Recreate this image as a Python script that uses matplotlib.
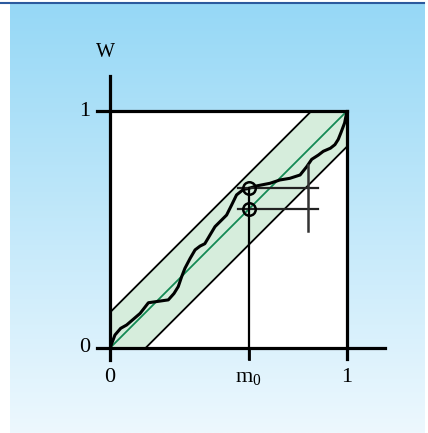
import numpy as np
import matplotlib
matplotlib.use("Agg")
import matplotlib.pyplot as plt
from matplotlib.colors import LinearSegmentedColormap

plt.rcParams['font.family'] = ['Liberation Serif', 'DejaVu Serif']
plt.rcParams['mathtext.fontset'] = 'custom'
plt.rcParams['mathtext.rm'] = 'Liberation Serif'
plt.rcParams['mathtext.it'] = 'Liberation Serif'

# data
curve_x = [0.0, 0.021, 0.045, 0.07, 0.091, 0.127, 0.162, 0.204, 0.246, 0.27, 0.288,
           0.302, 0.316, 0.338, 0.359, 0.38, 0.40, 0.415, 0.422, 0.443, 0.471, 0.492,
           0.513, 0.534, 0.563, 0.584, 0.619, 0.675, 0.717, 0.759, 0.802, 0.83, 0.851,
           0.879, 0.90, 0.93, 0.949, 0.963, 0.975, 0.99, 1.0]
curve_y = [0.0, 0.055, 0.083, 0.097, 0.115, 0.146, 0.191, 0.197, 0.203, 0.23, 0.259,
           0.30, 0.336, 0.378, 0.414, 0.43, 0.44, 0.465, 0.477, 0.512, 0.54, 0.561,
           0.603, 0.646, 0.669, 0.673, 0.684, 0.695, 0.709, 0.716, 0.73, 0.765, 0.796,
           0.814, 0.830, 0.843, 0.858, 0.880, 0.91, 0.95, 1.0]
eps = 0.15
m0 = 0.585
w_upper = 0.673
w_lower = 0.587
x_cross = 0.834
x_labels = ["0", r"m$_\mathrm{0}$", "1"]
x_label_pos = [0.0, m0, 1.0]
y_labels = ["0", "1"]
y_label_pos = [0.0, 1.0]

W, H = 428, 433
fig = plt.figure(figsize=(W / 100, H / 100), dpi=100)
fig.patch.set_facecolor('white')

# background gradient
bg = fig.add_axes([10 / W, 0, 415 / W, (H - 4) / H])
bg.axis('off')
cmap = LinearSegmentedColormap.from_list('g', ['#96d8f6', '#edf8fe'])
grad = np.linspace(0, 1, 256).reshape(-1, 1)
bg.imshow(grad, aspect='auto', cmap=cmap, extent=[0, 1, 0, 1], origin='upper')
fig.add_artist(plt.Line2D([0, 424 / W], [1 - 3 / H, 1 - 3 / H], color='#2b5a9e', lw=1.5,
                          transform=fig.transFigure))

ax = fig.add_axes([110 / W, (H - 348) / H, 237 / W, 237 / H])
ax.set_xlim(0, 1)
ax.set_ylim(0, 1)
ax.axis('off')
ax.patch.set_alpha(0)

# white square
ax.fill([0, 1, 1, 0], [0, 0, 1, 1], color='white', zorder=1)
# band
bx = [0, 0, 1 - eps, 1, 1, eps]
by = [0, eps, 1, 1, 1 - eps, 0]
ax.fill(bx, by, color='#d6eddc', zorder=2)
ax.plot([0, 1 - eps], [eps, 1], color='black', lw=1.3, zorder=3)
ax.plot([eps, 1], [0, 1 - eps], color='black', lw=1.3, zorder=3)
ax.plot([0, 1], [0, 1], color='#148a55', lw=1.3, zorder=4)

# curve
ax.plot(curve_x, curve_y, color='black', lw=2.2, zorder=5, solid_joinstyle='round')

# construction lines
ax.plot([0.541, 0.879], [w_upper, w_upper], color='#222222', lw=1.6, zorder=6)
ax.plot([0.541, 0.879], [w_lower, w_lower], color='#222222', lw=1.6, zorder=6)
ax.plot([x_cross, x_cross], [0.494, 0.772], color='#333333', lw=1.8, zorder=6)
ax.plot([m0, m0], [w_upper, -0.046], color='black', lw=1.6, zorder=6, clip_on=False)
for wy in [w_upper, w_lower]:
    ax.plot([m0], [wy], marker='o', ms=9, mfc='none', mec='black', mew=1.8, zorder=7)

# axes and box
ax.plot([-0.055, 1.16], [0, 0], color='black', lw=2.3, zorder=8, clip_on=False)
ax.plot([0, 0], [-0.05, 1.148], color='black', lw=2.3, zorder=8, clip_on=False)
ax.plot([-0.055, 1.0], [1, 1], color='black', lw=2.3, zorder=8, clip_on=False)
ax.plot([1, 1], [-0.046, 1.0], color='black', lw=2.3, zorder=8, clip_on=False)
ax.plot([m0, m0], [0, -0.046], color='black', lw=2.0, zorder=8, clip_on=False)

for lab, p in zip(x_labels, x_label_pos):
    ax.text(p, -0.125, lab, ha='center', va='center', fontsize=16, clip_on=False)
for lab, p in zip(y_labels, y_label_pos):
    ax.text(-0.105, p, lab, ha='center', va='center', fontsize=16, clip_on=False)
ax.text(-0.021, 1.245, "W", ha='center', va='center', fontsize=14.5, clip_on=False)

fig.savefig('out.png', dpi=100)
